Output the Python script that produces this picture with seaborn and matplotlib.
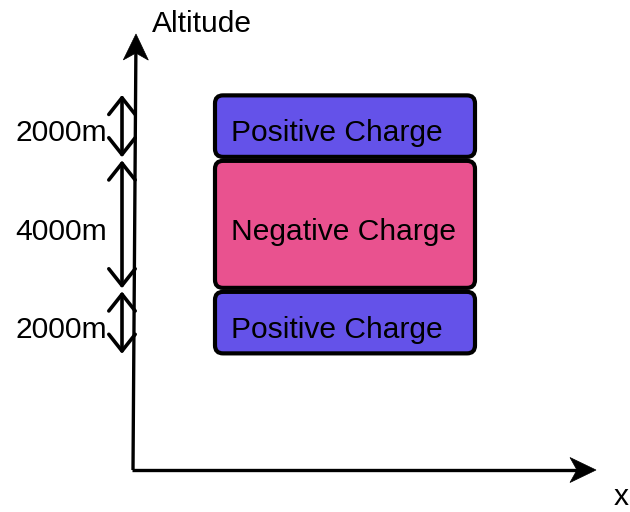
#!/usr/bin/env python3
"""
Layered charge structure of a thundercloud
"""

import matplotlib
matplotlib.use("Agg")
import matplotlib.pyplot as plt
from matplotlib.patches import FancyBboxPatch, FancyArrowPatch, ArrowStyle, Polygon
import seaborn as sns
import numpy as np

# Layers listed from bottom to top
layer_names = ["Positive Charge", "Negative Charge", "Positive Charge"]
layer_thickness_m = [2000, 4000, 2000]
layer_kind = ["positive", "negative", "positive"]
base_altitude_m = 3500

axis_labels = ["Altitude", "x"]

palette = {"positive": "#6452E9", "negative": "#E9528F"}

# pixel scale: px per metre
PX_PER_M = 0.03275
ORIGIN_PX = (135, 470)
W, H = 630, 512


def alt(px_y):
    """pixel row -> altitude in metres"""
    return (ORIGIN_PX[1] - px_y) / PX_PER_M


def to_px(p):
    return np.array([p[0], ORIGIN_PX[1] - p[1] * PX_PER_M])


def to_data(p):
    return (p[0], (ORIGIN_PX[1] - p[1]) / PX_PER_M)


def stealth_arrow(ax, start, tip, length=26, half_width=12.5, notch=7, lw=2.4):
    """Axis line with a notched (stealth) head; head geometry in pixels"""
    p0, p1 = to_px(start), to_px(tip)
    d = (p1 - p0) / np.linalg.norm(p1 - p0)
    n = np.array([-d[1], d[0]])
    back = p1 - d * length
    neck = p1 - d * (length - notch)
    pts = [p1, back + n * half_width, neck, back - n * half_width]
    ax.plot(*zip(to_data(p0), to_data(neck)), color='black', lw=lw, solid_capstyle='butt')
    ax.add_patch(Polygon([to_data(p) for p in pts], closed=True, facecolor='black',
                         edgecolor='black', lw=0.5))


def main():
    sns.set_theme(style="white")
    plt.rcParams['font.family'] = ['Liberation Sans', 'DejaVu Sans']
    plt.rcParams['text.color'] = 'black'
    fs = 21.6

    fig = plt.figure(figsize=(W / 100, H / 100), dpi=100)
    ax = fig.add_axes([0, 0, 1, 1])
    ax.set_xlim(0, W)
    ax.set_ylim(alt(H), alt(0))
    ax.axis('off')

    x0 = ORIGIN_PX[0]

    # Axes arrows
    stealth_arrow(ax, (x0 - 2, 0), (x0 + 1, alt(34)))
    stealth_arrow(ax, (x0 - 3, 0), (596, 0))
    ax.text(152, alt(32), axis_labels[0], fontsize=fs, ha='left', va='baseline')
    ax.text(621, alt(497), axis_labels[1], fontsize=fs, ha='center', va='center')

    # Layers
    bounds = base_altitude_m + np.concatenate([[0], np.cumsum(layer_thickness_m)])
    gap = 2.0 / PX_PER_M
    box_left, box_right = 215, 475
    dbl = ArrowStyle('<->', head_length=12, head_width=9.5)
    for i, (name, thick, kind) in enumerate(zip(layer_names, layer_thickness_m, layer_kind)):
        lo, hi = bounds[i], bounds[i + 1]
        box = FancyBboxPatch((box_left, lo + gap), box_right - box_left, hi - lo - 2 * gap,
                             boxstyle="round,pad=0,rounding_size=8",
                             mutation_aspect=1 / PX_PER_M,
                             facecolor=palette[kind], edgecolor='black', lw=3)
        ax.add_patch(box)
        mid = (lo + hi) / 2
        ax.annotate(name, (box_left + 16, mid), xytext=(0, -11), textcoords='offset points',
                    fontsize=fs, ha='left', va='baseline', color='black')

        # thickness arrow on the left
        ax.add_patch(FancyArrowPatch((122, lo + 1.5 / PX_PER_M), (122, hi - 1.5 / PX_PER_M),
                                     arrowstyle=dbl, mutation_scale=1, lw=2.6,
                                     color='black', shrinkA=0, shrinkB=0))
        ax.annotate(f"{thick}m", (107, mid), xytext=(0, -11), textcoords='offset points',
                    fontsize=fs, ha='right', va='baseline', color='black')

    fig.savefig('out.png', dpi=100)


if __name__ == "__main__":
    main()
